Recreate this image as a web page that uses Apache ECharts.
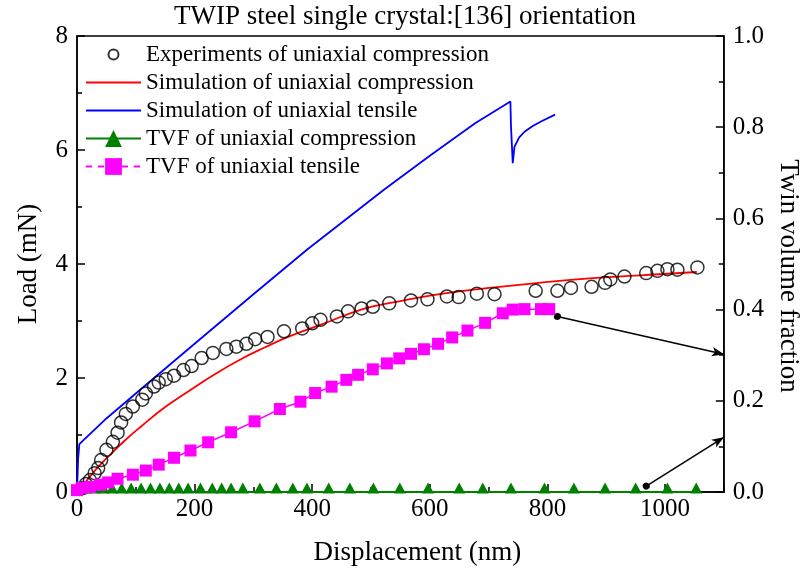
<!DOCTYPE html>
<html>
<head>
<meta charset="utf-8">
<script src="https://cdn.jsdelivr.net/npm/echarts@6/dist/echarts.min.js"></script>
<style>
  html, body { margin: 0; padding: 0; background: #fff; }
  #chart { width: 810px; height: 576px; }
</style>
</head>
<body>
<div id="chart"></div>
<script>
// experiments of uniaxial compression (nm, mN)
var expX = [10, 15, 22, 30, 36, 41, 50, 61, 69, 75, 83, 95, 111, 117, 131, 139, 151, 165, 181, 195, 212, 231, 254, 271, 288, 303, 324, 352, 383, 400, 414, 442, 461, 484, 503, 531, 568, 596, 629, 649, 680, 710, 780, 817, 840, 875, 898, 907, 931, 968, 987, 1004, 1021, 1055];
var expY = [0.07, 0.14, 0.21, 0.33, 0.42, 0.56, 0.74, 0.88, 1.04, 1.22, 1.37, 1.50, 1.62, 1.73, 1.85, 1.92, 1.98, 2.04, 2.14, 2.21, 2.35, 2.44, 2.51, 2.55, 2.60, 2.68, 2.72, 2.82, 2.87, 2.96, 3.02, 3.08, 3.17, 3.22, 3.25, 3.31, 3.36, 3.38, 3.43, 3.42, 3.48, 3.47, 3.53, 3.53, 3.58, 3.60, 3.67, 3.73, 3.78, 3.84, 3.88, 3.91, 3.90, 3.94];

// simulation of uniaxial compression
var compX = [8, 13, 30, 53, 80, 109, 150, 193, 235, 277, 320, 361, 416, 486, 540, 598, 650, 710, 777, 850, 920, 990, 1054];
var compY = [0.05, 0.15, 0.37, 0.62, 0.89, 1.15, 1.49, 1.79, 2.07, 2.32, 2.54, 2.73, 2.94, 3.21, 3.33, 3.44, 3.52, 3.59, 3.66, 3.73, 3.78, 3.82, 3.86];

// simulation of uniaxial tensile
var tensX = [0, 2, 4, 50, 114, 200, 300, 391, 523, 600, 677, 737, 738, 741, 744, 752, 761, 775, 789, 813];
var tensY = [0, 0.6, 0.84, 1.29, 1.85, 2.60, 3.47, 4.25, 5.31, 5.90, 6.47, 6.85, 6.42, 5.77, 6.06, 6.22, 6.32, 6.42, 6.50, 6.62];

// twin volume fraction, compression
var tvfCompX = [0, 15, 30, 45, 60, 76, 92, 109, 125, 141, 157, 173, 189, 210, 230, 246, 262, 282, 311, 339, 367, 391, 428, 464, 504, 549, 597, 650, 690, 738, 795, 845, 898, 950, 1004, 1053];
var tvfCompY = [0, 0, 0, 0, 0, 0, 0, 0, 0, 0, 0, 0, 0, 0, 0, 0, 0, 0, 0, 0, 0, 0, 0, 0, 0, 0, 0, 0, 0, 0, 0, 0, 0, 0, 0, 0];

// twin volume fraction, tensile
var tvfTensX = [0, 8, 22, 39, 53, 69, 95, 117, 139, 165, 193, 223, 262, 302, 345, 380, 405, 433, 458, 478, 503, 527, 548, 568, 590, 614, 638, 664, 694, 724, 741, 761, 789, 803];
var tvfTensY = [0.004, 0.009, 0.011, 0.016, 0.021, 0.029, 0.038, 0.047, 0.060, 0.075, 0.091, 0.109, 0.131, 0.155, 0.182, 0.198, 0.217, 0.231, 0.246, 0.257, 0.269, 0.282, 0.293, 0.303, 0.313, 0.325, 0.339, 0.354, 0.371, 0.392, 0.400, 0.401, 0.401, 0.401];

// annotation arrows (start / end in data units of the right axis)
var arrowA = [[817, 0.385], [1100, 0.302]];
var arrowB = [[968, 0.013], [1100, 0.120]];

function pairs(xs, ys) {
  return xs.map(function (x, i) { return [x, ys[i]]; });
}

var FONT = 'Liberation Serif';
var chart = echarts.init(document.getElementById('chart'));

var option = {
  animation: false,
  backgroundColor: '#fff',
  textStyle: { fontFamily: FONT, color: '#000' },
  title: {
    text: 'TWIP steel single crystal:[136] orientation',
    left: 'center',
    top: 3,
    padding: 0,
    textStyle: { fontFamily: FONT, fontSize: 27, fontWeight: 'normal', color: '#000' }
  },
  grid: {
    left: 77, right: 78, top: 36, bottom: 84,
    show: true, borderColor: '#000', borderWidth: 1.5, backgroundColor: 'transparent'
  },
  legend: {
    orient: 'vertical',
    left: 80,
    top: 38,
    itemWidth: 55,
    itemHeight: 21,
    itemGap: 5,
    textStyle: { fontFamily: FONT, fontSize: 23, color: '#000' },
    data: [
      // small open circle inside a full-size icon box
      { name: 'Experiments of uniaxial compression',
        icon: 'path://M0,0 M55,21 M32.5,10.5 A5,5 0 1 1 22.5,10.5 A5,5 0 1 1 32.5,10.5 Z' },
      { name: 'Simulation of uniaxial compression', itemStyle: { opacity: 0 } },
      { name: 'Simulation of uniaxial tensile', itemStyle: { opacity: 0 } },
      { name: 'TVF of uniaxial compression' },
      { name: 'TVF of uniaxial tensile', lineStyle: { type: [6, 6] } }
    ]
  },
  xAxis: {
    type: 'value',
    min: 0, max: 1100, interval: 200,
    name: 'Displacement (nm)',
    nameLocation: 'middle',
    nameGap: 47,
    nameTextStyle: { fontFamily: FONT, fontSize: 27, color: '#000', padding: [0, 0, 0, 34] },
    axisLine: { lineStyle: { color: '#000', width: 1.5 } },
    axisTick: { inside: true, length: 8, lineStyle: { color: '#000', width: 1.5 } },
    minorTick: { show: true, splitNumber: 2, length: 5, lineStyle: { color: '#000', width: 1.5 } },
    axisLabel: {
      fontFamily: FONT, fontSize: 25, color: '#000', margin: 5, showMaxLabel: false,
      formatter: function (v) { return v === 1100 ? '' : v; }
    },
    splitLine: { show: false }
  },
  yAxis: [
    {
      type: 'value',
      min: 0, max: 8, interval: 2,
      name: 'Load (mN)',
      nameLocation: 'middle',
      nameGap: 35,
      nameTextStyle: { fontFamily: FONT, fontSize: 27, color: '#000' },
      axisLine: { show: true, lineStyle: { color: '#000', width: 1.5 } },
      axisTick: { show: true, inside: true, length: 8, lineStyle: { color: '#000', width: 1.5 } },
      minorTick: { show: true, splitNumber: 2, length: 5, lineStyle: { color: '#000', width: 1.5 } },
      axisLabel: { fontFamily: FONT, fontSize: 25, color: '#000', margin: 9 },
      splitLine: { show: false }
    },
    {
      type: 'value',
      position: 'right',
      min: 0, max: 1, interval: 0.2,
      name: 'Twin volume fraction',
      nameLocation: 'middle',
      nameRotate: -90,
      nameGap: 51,
      nameTextStyle: { fontFamily: FONT, fontSize: 27, color: '#000', padding: [0, 0, 0, 24] },
      axisLine: { show: true, lineStyle: { color: '#000', width: 1.5 } },
      axisTick: { show: true, inside: true, length: 8, lineStyle: { color: '#000', width: 1.5 } },
      minorTick: { show: true, splitNumber: 2, length: 5, lineStyle: { color: '#000', width: 1.5 } },
      axisLabel: {
        fontFamily: FONT, fontSize: 25, color: '#000', margin: 9,
        formatter: function (v) { return v.toFixed(1); }
      },
      splitLine: { show: false }
    }
  ],
  series: [
    {
      name: 'Simulation of uniaxial tensile',
      type: 'line',
      data: pairs(tensX, tensY),
      showSymbol: false,
      symbol: 'none',
      lineStyle: { color: '#0000ff', width: 1.8 },
      itemStyle: { color: '#0000ff' },
      z: 3
    },
    {
      name: 'Simulation of uniaxial compression',
      type: 'line',
      data: pairs(compX, compY),
      smooth: true,
      symbol: 'none',
      lineStyle: { color: '#ff0000', width: 1.8 },
      itemStyle: { color: '#ff0000' },
      z: 4
    },
    {
      name: 'Experiments of uniaxial compression',
      type: 'scatter',
      data: pairs(expX, expY),
      symbol: 'circle',
      symbolSize: 13,
      itemStyle: { color: 'rgba(255,255,255,0)', borderColor: '#000', borderWidth: 1.5 },
      z: 5
    },
    {
      name: 'TVF of uniaxial compression',
      type: 'line',
      yAxisIndex: 1,
      data: pairs(tvfCompX, tvfCompY),
      symbol: 'triangle',
      symbolSize: [12, 11],
      symbolOffset: [0, -4],
      lineStyle: { color: '#008000', width: 2 },
      itemStyle: { color: '#008000' },
      z: 6
    },
    {
      name: 'TVF of uniaxial tensile',
      type: 'line',
      yAxisIndex: 1,
      data: pairs(tvfTensX, tvfTensY),
      symbol: 'rect',
      symbolSize: 12,
      lineStyle: { color: '#ff00ff', width: 1.5 },
      itemStyle: { color: '#ff00ff' },
      z: 7,
      markLine: {
        silent: true,
        animation: false,
        symbol: ['circle', 'arrow'],
        symbolSize: [7, 12],
        label: { show: false },
        lineStyle: { color: '#000', width: 1.5, type: 'solid' },
        data: [
          [{ coord: arrowA[0] }, { coord: arrowA[1] }],
          [{ coord: arrowB[0] }, { coord: arrowB[1] }]
        ]
      }
    }
  ]
};

chart.setOption(option);
</script>
</body>
</html>
